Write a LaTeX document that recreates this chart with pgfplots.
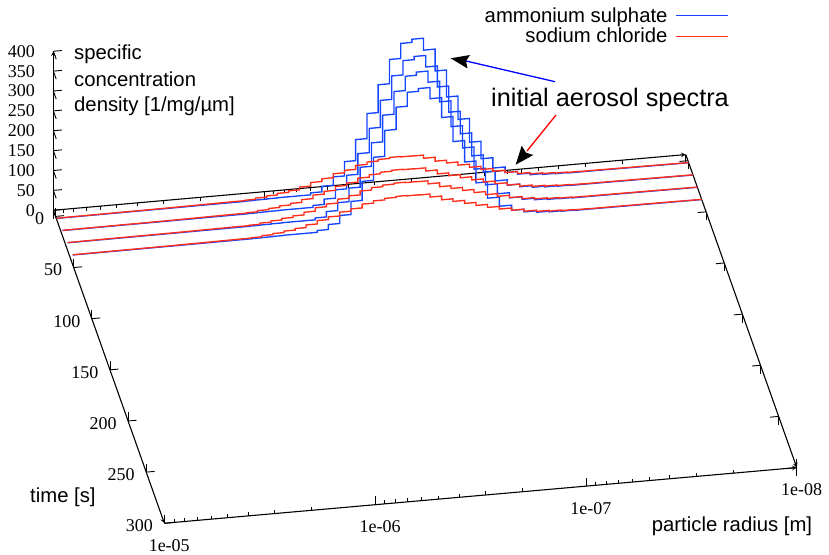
\documentclass[border=0pt]{standalone}
\usepackage{fontspec}
\setmainfont{Liberation Serif}
\newfontfamily\hv{Liberation Sans}
\usepackage{pgfplots}
\usepackage{pgfplotstable}
\pgfplotsset{compat=1.18}
\usetikzlibrary{arrows.meta}
\definecolor{sblue}{RGB}{20,70,255}
\definecolor{sred}{RGB}{255,45,25}
\pgfplotstableread{
u b r
0.002 0 0.5
0.500 0.5 1.5
0.841 1 3
0.893 1 3
0.893 1.5 4
0.945 1.5 4
0.945 2 7
0.997 2 7
0.997 2.5 10
1.049 2.5 10
1.049 3 14
1.102 3 14
1.102 3 18
1.154 3 18
1.154 3 25
1.207 3 25
1.207 8 34
1.260 8 34
1.260 22 41
1.314 22 41
1.314 43 51
1.367 43 51
1.367 79 57
1.420 79 57
1.420 132 67
1.474 132 67
1.474 195 73
1.527 195 73
1.527 265 77
1.581 265 77
1.581 326 79.5
1.634 326 79.5
1.634 364 78.5
1.687 364 78.5
1.687 372 78
1.742 372 78
1.742 342 70
1.797 342 70
1.797 287 60
1.851 287 60
1.851 219 53
1.906 219 53
1.906 160 45
1.960 160 45
1.960 100 37
2.015 100 37
2.015 56 29
2.071 56 29
2.071 30 22
2.129 30 22
2.129 16 16
2.188 16 16
2.188 9 10.5
2.247 9 10.5
2.247 5 7
2.307 5 7
2.307 3 5
2.366 3 5
2.366 2 3.5
2.425 2 3.5
2.425 1 2.5
2.484 1 2.5
2.484 1 2
2.546 1 2
3.000 0 0.5
}\specA
\pgfplotstableread{
u b r
0.008 0 0.5
0.500 0.5 1.5
0.831 1 3
0.883 1 3
0.883 1.5 4
0.935 1.5 4
0.935 2 6.9
0.987 2 6.9
0.987 2.4 9.9
1.039 2.4 9.9
1.039 2.9 13.9
1.092 2.9 13.9
1.092 2.9 17.8
1.144 2.9 17.8
1.144 2.9 24.8
1.197 2.9 24.8
1.197 7.7 33.7
1.250 7.7 33.7
1.250 21 40.6
1.304 21 40.6
1.304 42 50.5
1.357 42 50.5
1.357 76 56.4
1.410 76 56.4
1.410 128 66.3
1.464 128 66.3
1.464 189 72.3
1.517 189 72.3
1.517 257 76.2
1.571 257 76.2
1.571 316 78.7
1.624 316 78.7
1.624 352 77.7
1.677 352 77.7
1.677 360 77.2
1.732 360 77.2
1.732 331 69.3
1.787 331 69.3
1.787 278 59.4
1.841 278 59.4
1.841 212 52.5
1.896 212 52.5
1.896 155 44.6
1.950 155 44.6
1.950 97 36.6
2.005 97 36.6
2.005 54 28.7
2.061 54 28.7
2.061 29 21.8
2.119 29 21.8
2.119 15.5 15.8
2.178 15.5 15.8
2.178 8.7 10.4
2.237 8.7 10.4
2.237 4.8 6.9
2.297 4.8 6.9
2.297 2.9 5
2.356 2.9 5
2.356 1.9 3.5
2.415 1.9 3.5
2.415 1 2.5
2.474 1 2.5
2.474 1 2
2.536 1 2
3.000 0 0.5
}\specB
\pgfplotstableread{
u b r
0.013 0 0.5
0.500 0.5 1.5
0.821 1 2.9
0.873 1 2.9
0.873 1.4 3.9
0.925 1.4 3.9
0.925 1.9 6.8
0.977 1.9 6.8
0.977 2.4 9.8
1.029 2.4 9.8
1.029 2.8 13.7
1.082 2.8 13.7
1.082 2.8 17.6
1.134 2.8 17.6
1.134 2.8 24.4
1.187 2.8 24.4
1.187 7.6 33.2
1.240 7.6 33.2
1.240 21 40
1.294 21 40
1.294 41 49.7
1.347 41 49.7
1.347 75 55.6
1.400 75 55.6
1.400 125 65.3
1.454 125 65.3
1.454 184 71.2
1.507 184 71.2
1.507 251 75.1
1.561 251 75.1
1.561 308 77.5
1.614 308 77.5
1.614 344 76.5
1.667 344 76.5
1.667 352 76
1.722 352 76
1.722 324 68.3
1.777 324 68.3
1.777 272 58.5
1.831 272 58.5
1.831 207 51.7
1.886 207 51.7
1.886 151 43.9
1.940 151 43.9
1.940 95 36.1
1.995 95 36.1
1.995 53 28.3
2.051 53 28.3
2.051 28 21.5
2.109 28 21.5
2.109 15 15.6
2.168 15 15.6
2.168 8.5 10.2
2.227 8.5 10.2
2.227 4.7 6.8
2.287 4.7 6.8
2.287 2.8 4.9
2.346 2.8 4.9
2.346 1.9 3.4
2.405 1.9 3.4
2.405 1 2.4
2.464 1 2.4
2.464 1 2
2.526 1 2
3.000 0 0.5
}\specC
\pgfplotstableread{
u b r
0.016 0 0.5
0.500 0.5 1.5
0.810 1 2.9
0.862 1 2.9
0.862 1.4 3.8
0.914 1.4 3.8
0.914 1.8 6.7
0.966 1.8 6.7
0.966 2.3 9.5
1.018 2.3 9.5
1.018 2.8 13.3
1.071 2.8 13.3
1.071 2.8 17.1
1.123 2.8 17.1
1.123 2.8 23.8
1.176 2.8 23.8
1.176 7.4 32.3
1.229 7.4 32.3
1.229 20 39
1.283 20 39
1.283 40 48.5
1.336 40 48.5
1.336 73 54.2
1.389 73 54.2
1.389 121 63.7
1.443 121 63.7
1.443 179 69.4
1.496 179 69.4
1.496 244 73.2
1.550 244 73.2
1.550 300 75.5
1.603 300 75.5
1.603 335 74.6
1.656 335 74.6
1.656 342 74.1
1.711 342 74.1
1.711 314 66.5
1.766 314 66.5
1.766 264 57
1.820 264 57
1.820 201 50.4
1.875 201 50.4
1.875 147 42.8
1.929 147 42.8
1.929 92 35.2
1.984 92 35.2
1.984 51 27.6
2.040 51 27.6
2.040 28 20.9
2.098 28 20.9
2.098 15 15.2
2.157 15 15.2
2.157 8.3 10
2.216 8.3 10
2.216 4.6 6.7
2.276 4.6 6.7
2.276 2.8 4.8
2.335 2.8 4.8
2.335 1.8 3.3
2.394 1.8 3.3
2.394 0.9 2.4
2.453 0.9 2.4
2.453 0.9 1.9
2.515 0.9 1.9
3.000 0 0.5
}\specD
\pgfplotsset{
  geom/.style={
    disabledatascaling,
    anchor=origin, at={(55.55pt,337.6pt)},
    x={(210.8pt,18.57pt)}, y={(0.3627pt,-1.0229pt)}, z={(0pt,0.3975pt)},
    clip=false,
    xmin=0, xmax=3, ymin=-6, ymax=300,
    tick style={black,line width=0.9pt},
    axis line style={black,line width=1.1pt,-},
    /pgf/number format/assume math mode=true,
    tick label style={font=\fontsize{18}{20}\selectfont},
    xtick={0,1,2,3},
    minor xtick={0.0458,0.0969,0.1549,0.2218,0.3010,0.3979,0.5229,0.6990,
               1.0458,1.0969,1.1549,1.2218,1.3010,1.3979,1.5229,1.6990,
               2.0458,2.0969,2.1549,2.2218,2.3010,2.3979,2.5229,2.6990},
    ytick={0,50,100,150,200,250,300},
    major tick length=8.5pt, minor tick length=3.5pt,
  }
}
\begin{document}
\begin{tikzpicture}
\path[use as bounding box] (0,0) rectangle (829pt,554pt);
% front and right edges of the floor
\begin{axis}[geom,
  zmin=-400, zmax=0, axis lines=right, hide z axis,
  tick align=inside, xticklabel pos=left,
  xticklabels={1e-05,1e-06,1e-07,1e-08},
  xticklabel style={xshift=117.5pt,yshift=-344.5pt},
  yticklabels={},
]
\addplot3[draw=none,forget plot] coordinates {(0,0,0)};
\end{axis}
% back and left edges of the floor, vertical axis, and the spectra
\begin{axis}[geom,
  zmin=0, zmax=400, axis lines=left,
  tick align=inside,
  xticklabels={},
  yticklabel style={anchor=east,xshift=-8pt,yshift=-2.5pt},
  zticklabel style={anchor=east,xshift=-15pt,yshift=0pt},
  ztick={0,50,100,150,200,250,300,350,400},
  legend style={draw=none,fill=none,at={(axis cs:3,-6,400)},anchor=north east,
    xshift=46pt,yshift=-8pt,
    /tikz/column sep=6pt,
    font=\hv\fontsize{20.3}{21}\selectfont,cells={anchor=east},legend plot pos=right},
  legend image code/.code={\draw[#1] (0pt,0pt) -- (52pt,0pt);},
]
\addlegendimage{sblue,line width=1.05pt}
\addlegendentry{ammonium sulphate}
\addlegendimage{sred,line width=1.05pt}
\addlegendentry{sodium chloride}
\addplot3[sblue,line width=1.35pt,forget plot] table[x=u,y expr=2,z=b]{\specA};
\addplot3[sblue,line width=1.35pt,forget plot] table[x=u,y expr=14,z=b]{\specB};
\addplot3[sblue,line width=1.35pt,forget plot] table[x=u,y expr=26,z=b]{\specC};
\addplot3[sblue,line width=1.35pt,forget plot] table[x=u,y expr=38,z=b]{\specD};
\addplot3[sred,line width=1.35pt,forget plot] table[x=u,y expr=2,z=r]{\specA};
\addplot3[sred,line width=1.35pt,forget plot] table[x=u,y expr=14,z=r]{\specB};
\addplot3[sred,line width=1.35pt,forget plot] table[x=u,y expr=26,z=r]{\specC};
\addplot3[sred,line width=1.35pt,forget plot] table[x=u,y expr=38,z=r]{\specD};
\end{axis}
% annotations, placed in image coordinates
\begin{scope}[x=1pt,y=-1pt,yshift=554pt,font=\hv\fontsize{20.3}{22}\selectfont]
\node[anchor=base west,inner sep=0pt] at (74,60) {specific};
\node[anchor=base west,inner sep=0pt] at (74,86.7) {concentration};
\node[anchor=base west,inner sep=0pt] at (74,111.7) {density [1/mg/µm]};
\node[anchor=base west,inner sep=0pt] at (30,502.7) {time [s]};
\node[anchor=base west,inner sep=0pt] at (651.7,531.7) {particle radius [m]};
\node[anchor=base west,inner sep=0pt,font=\hv\fontsize{25.3}{27}\selectfont] at (491,107) {initial aerosol spectra};
\draw[blue,line width=1.3pt] (555,81.7) -- (466,61);
\fill[black] (450.7,58.3) -- (470,55) -- (466,61) -- (467.5,68.5) -- cycle;
\draw[red,line width=1.3pt] (556,115) -- (527,151);
\fill[black] (515.7,164.7) -- (521.7,145.7) -- (526,152.7) -- (533.3,155) -- cycle;
\end{scope}
\end{tikzpicture}
\end{document}
